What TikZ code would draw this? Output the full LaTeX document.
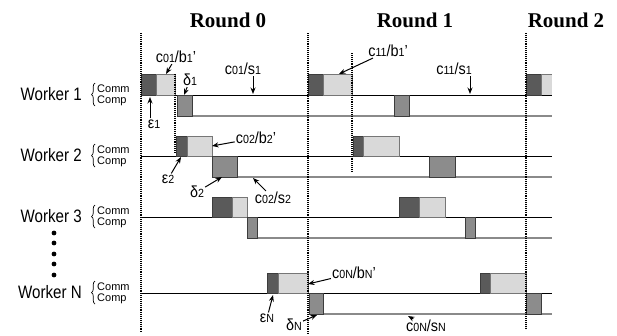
\documentclass[tikz,border=0pt]{standalone}
\usepackage{graphicx}
\usepackage{fontspec}
\setmainfont{Liberation Sans}
\newfontfamily\serifb{Liberation Serif}
\usetikzlibrary{arrows.meta,decorations.pathreplacing}
\definecolor{dkbox}{HTML}{5A5A5A}
\definecolor{ltbox}{HTML}{D9D9D9}
\definecolor{mdbox}{HTML}{8C8C8C}
\definecolor{boxedge}{HTML}{3C3C3C}
\definecolor{compline}{HTML}{8A8A8A}
\newcommand\dg[1]{\scalebox{0.74}{#1}}
\newcommand\lbtxt[1]{\scalebox{0.9}[1]{#1}}
\newcommand\wktxt[1]{\scalebox{0.84}[1]{#1}}
\tikzset{
  dkb/.style={fill=dkbox,draw=boxedge,line width=0.8pt},
  ltb/.style={fill=ltbox,draw=boxedge!70,line width=0.8pt},
  mdb/.style={fill=mdbox,draw=boxedge,line width=0.8pt},
  commln/.style={draw=black,line width=0.9pt},
  compln/.style={draw=compline,line width=1.5pt},
  rline/.style={draw=black,line width=1.4pt,dash pattern=on 1pt off 0.9pt},
  rnd/.style={font=\serifb\bfseries\fontsize{21}{21}\selectfont,inner sep=0pt},
  wlab/.style={font=\fontsize{18}{18}\selectfont,inner sep=0pt,anchor=east},
  cc/.style={font=\fontsize{11}{11}\selectfont,inner sep=0pt,anchor=base west},
  lab/.style={font=\fontsize{16}{16}\selectfont,inner sep=1pt},
  arr/.style={-{Stealth[length=6.5pt,width=5pt]},line width=1pt},
  brc/.style={decorate,decoration={brace,amplitude=3.5pt},line width=0.7pt}
}
\begin{document}
\begin{tikzpicture}[x=1pt,y=-1pt]
\useasboundingbox (0,0) rectangle (617,335);

% round headers
\node[rnd] (r0) at (228,20) {Round 0};
\node[rnd] (r1) at (415,20) {Round 1};
\node[rnd] (r2) at (566,20) {Round 2};

% timelines (comm black, comp gray)
\draw[commln] (141,95) -- (552,95);
\draw[compln] (177,116) -- (552,116);
\draw[commln] (141,156) -- (552,156);
\draw[compln] (212,177) -- (552,177);
\draw[commln] (141,217) -- (552,217);
\draw[compln] (247,238) -- (552,238);
\draw[commln] (141,293) -- (552,293);
\draw[compln] (309,314) -- (552,314);

% Worker 1
\filldraw[dkb] (141,74) rectangle (156,95);
\filldraw[ltb] (156,74) rectangle (175,95);
\filldraw[mdb] (177,95) rectangle (192,116);
\filldraw[dkb] (308,74) rectangle (323,95);
\filldraw[ltb] (323,74) rectangle (352,95);
\filldraw[mdb] (394,95) rectangle (409,116);
\filldraw[dkb] (526,74) rectangle (541,95);
\fill[ltbox] (541,74) rectangle (552,95);
\draw[boxedge!70,line width=0.8pt] (541,95) -- (541,74) -- (552,74);
% Worker 2
\filldraw[dkb] (176,136) rectangle (187,156);
\filldraw[ltb] (187,136) rectangle (212,156);
\filldraw[mdb] (212,156) rectangle (237,177);
\filldraw[dkb] (353,136) rectangle (363,156);
\filldraw[ltb] (363,136) rectangle (399,156);
\filldraw[mdb] (429,156) rectangle (455,177);
% Worker 3
\filldraw[dkb] (212,197) rectangle (232,217);
\filldraw[ltb] (232,197) rectangle (247,217);
\filldraw[mdb] (247,217) rectangle (257,238);
\filldraw[dkb] (399,197) rectangle (419,217);
\filldraw[ltb] (419,197) rectangle (445,217);
\filldraw[mdb] (465,217) rectangle (475,238);
% Worker N
\filldraw[dkb] (267,273) rectangle (278,293);
\filldraw[ltb] (278,273) rectangle (308,293);
\filldraw[mdb] (309,293) rectangle (323,314);
\filldraw[dkb] (480,273) rectangle (490,293);
\filldraw[ltb] (490,273) rectangle (526,293);
\filldraw[mdb] (526,293) rectangle (541,314);

% round boundaries
\draw[rline] (141,33) -- (141,333);
\draw[rline] (308,33) -- (308,335);
\draw[rline] (526,33) -- (526,328);
\draw[rline] (175,74) -- (175,152);
\draw[rline] (352,53) -- (352,172);

% worker labels
\foreach \n/\ly/\t in {1/95/Worker 1,2/156/Worker 2,3/217/Worker 3,4/293/Worker N}{
  \node[wlab] (w\n) at (82,\ly-1) {\wktxt{\t}};
  \draw[brc] (95,\ly+11) -- (95,\ly-12);
  \node[cc] (cm\n) at (97,\ly-3) {Comm};
  \node[cc] (cp\n) at (97,\ly+8.5) {Comp};
}
% ellipsis dots
\foreach \yy in {233,243,254,264,275}{\fill (54,\yy) circle (2.4);}

% annotations
\node[lab] (l1) at (176,57) {\lbtxt{c\dg{01}/b\dg{1}'}};
\coordinate (t1) at (166,74);
\draw[arr] (l1) -- (t1);

\node[lab] (l2) at (243,69) {\lbtxt{c\dg{01}/s\dg{1}}};
\coordinate (t2) at (253,94);
\draw[arr] (l2.south -| t2) -- (t2);

\node[lab] (l3) at (190,80) {\lbtxt{δ\dg{1}}};
\coordinate (t3) at (184,95);
\draw[arr] (l3) -- (t3);

\node[lab] (l5) at (154,124) {\lbtxt{ε\dg{1}}};
\coordinate (t5) at (150,97);
\draw[arr] (l5.north -| t5) -- (t5);

\node[lab] (l6) at (388,51) {\lbtxt{c\dg{11}/b\dg{1}'}};
\coordinate (t6) at (339,74);
\draw[arr] (l6) -- (t6);

\node[lab] (l4) at (454,69) {\lbtxt{c\dg{11}/s\dg{1}}};
\coordinate (t4) at (470,94);
\draw[arr] (l4.south -| t4) -- (t4);

\node[lab] (l7) at (256,138) {\lbtxt{c\dg{02}/b\dg{2}'}};
\coordinate (t7) at (212,146);
\draw[arr] (l7) -- (t7);

\node[lab] (l8) at (168,179) {\lbtxt{ε\dg{2}}};
\coordinate (t8) at (181,157);
\draw[arr] (l8) -- (t8);

\node[lab] (l9) at (197,192) {\lbtxt{δ\dg{2}}};
\coordinate (t9) at (222,177);
\draw[arr] (l9) -- (t9);

\node[lab] (l10) at (273,198) {\lbtxt{c\dg{02}/s\dg{2}}};
\coordinate (t10) at (253,178);
\draw[arr] (l10) -- (t10);

\node[lab] (l11) at (267,318) {\lbtxt{ε\dg{N}}};
\coordinate (t11) at (273,295);
\draw[arr] (l11) -- (t11);

\node[lab] (l12) at (294,325) {\lbtxt{δ\dg{N}}};
\coordinate (t12) at (317,315);
\draw[arr] (l12) -- (t12);

\node[lab] (l13) at (354,273) {\lbtxt{c\dg{0N}/b\dg{N}'}};
\coordinate (t13) at (308,284);
\draw[arr] (l13) -- (t13);

\node[lab] (l14) at (426,326) {\lbtxt{c\dg{0N}/s\dg{N}}};
\coordinate (t14) at (408,316);
\draw[arr] (l14) -- (t14);
\end{tikzpicture}
\end{document}
